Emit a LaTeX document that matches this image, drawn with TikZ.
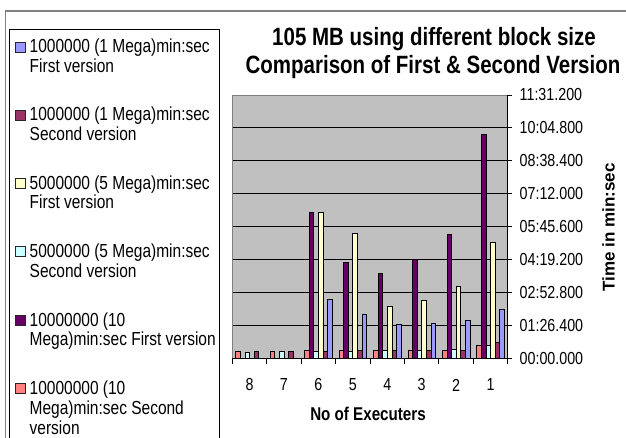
\documentclass[tikz,border=0pt]{standalone}
\usepackage{fontspec}
\setmainfont[FakeStretch=0.82]{Liberation Sans}
\newfontfamily\widesans{Liberation Sans}

\definecolor{plotgray}{HTML}{C0C0C0}
\definecolor{framegray}{HTML}{808080}
\definecolor{sBlue}{HTML}{9999FF}
\definecolor{sPlum}{HTML}{993366}
\definecolor{sYellow}{HTML}{FFFFCC}
\definecolor{sCyan}{HTML}{CCFFFF}
\definecolor{sPurple}{HTML}{660066}
\definecolor{sSalmon}{HTML}{FF8080}

\tikzset{
  legtext/.style={anchor=base west, inner sep=0pt, font=\fontsize{18.9}{20}\selectfont},
  swatch/.style={draw=black!85, line width=0.6pt, minimum size=10pt, inner sep=0pt},
  ticklabel/.style={inner sep=0pt, font=\fontsize{17.4}{19}\selectfont},
  titletext/.style={anchor=base, inner sep=0pt, font=\fontsize{25}{28}\selectfont\bfseries},
  barbox/.style={draw=black, line width=0.6pt},
  gridline/.style={draw=black, line width=0.9pt},
  axisline/.style={draw=black, line width=0.9pt},
}

\begin{document}
\begin{tikzpicture}[x=1pt, y=-1pt]
\useasboundingbox (0,0) rectangle (626,438);
\fill[white] (0,0) rectangle (626,438);

% chart frame and legend box
\draw[framegray, line width=1.3pt] (5.5,438) -- (5.5,11) -- (626,11);
\draw[black, line width=1pt] (9,438) -- (9,29.5) -- (219.5,29.5) -- (219.5,438);

% plot area
\fill[plotgray] (232.3,95) rectangle (507.7,358.5);
\foreach \i in {1,...,7}
  \draw[gridline] (232.3,{358.5-32.94*\i}) -- (507.7,{358.5-32.94*\i});
\draw[framegray, line width=0.9pt] (232.3,358.5) -- (232.3,95) -- (507.7,95);

% bars: one series at a time, categories 8 ... 1 from left to right
\foreach \c/\j/\hs in {
  sSalmon/0/{7.3,7.3,8.7,8.7,8.7,8.7,8.7,13},
  sPurple/1/{0,0,146.3,95.7,85.7,99,124,224},
  sCyan/2/{6.3,7.3,7,7,8.7,8.7,9.7,13},
  sYellow/3/{0,0,146.3,125,52.3,58,72.7,116},
  sPlum/4/{7.3,7.3,7,8.7,8.7,8.7,8.7,16.3},
  sBlue/5/{0,0,59.3,44.7,34.3,35.7,38,49.3}} {
  \foreach \h [count=\k from 0] in \hs {
    \ifdim \h pt>0.1pt
      \pgfmathsetmacro\xa{232.3+34.425*\k+3.44+4.59*\j}
      \filldraw[barbox, fill=\c] (\xa,358.5) rectangle ++(4.59,-\h);
    \fi
  }
}

% value axis on the right
\draw[axisline] (507.7,95) -- (507.7,358.5);
\foreach \v [count=\i from 0] in {00:00.000,01:26.400,02:52.800,04:19.200,05:45.600,07:12.000,08:38.400,10:04.800,11:31.200} {
  \draw[axisline] (507.7,{358.5-32.94*\i}) -- (512,{358.5-32.94*\i});
  \node[ticklabel, anchor=west] (v\i) at (519.5,{358.5-32.94*\i}) {\v};
}

% category axis
\draw[axisline] (232.3,358.5) -- (507.7,358.5);
\foreach \i in {0,...,8}
  \draw[axisline] ({232.3+34.425*\i},358.5) -- ({232.3+34.425*\i},363.5);
\foreach \n [count=\k from 0] in {8,7,6,5,4,3,2,1}
  \node[ticklabel] (c\n) at ({232.3+34.425*(\k+0.5)},385) {\n};

% titles
\node[titletext] (title1) at (434,46) {105 MB using different block size};
\node[titletext] (title2) at (433,74) {Comparison of First \& Second Version};
\node[anchor=base, inner sep=0pt, font=\fontsize{18.5}{20}\selectfont\bfseries] (xtitle) at (368,420) {No of Executers};
\node[rotate=90, inner sep=0pt, font=\widesans\fontsize{17}{19}\selectfont\bfseries] (ytitle) at (608.5,227.5) {Time in min:sec};

% legend
\node[swatch, fill=sBlue] (k1) at (20.5,47) {};
\node[legtext] (l1a) at (29.5,52.7) {1000000 (1 Mega)min:sec};
\node[legtext] (l1b) at (29.5,72.2) {First version};
\node[swatch, fill=sPlum] (k2) at (20.5,115.3) {};
\node[legtext] (l2a) at (29.5,121) {1000000 (1 Mega)min:sec};
\node[legtext] (l2b) at (29.5,140.5) {Second version};
\node[swatch, fill=sYellow] (k3) at (20.5,183.5) {};
\node[legtext] (l3a) at (29.5,189.2) {5000000 (5 Mega)min:sec};
\node[legtext] (l3b) at (29.5,208.7) {First version};
\node[swatch, fill=sCyan] (k4) at (20.5,251.7) {};
\node[legtext] (l4a) at (29.5,257.4) {5000000 (5 Mega)min:sec};
\node[legtext] (l4b) at (29.5,277) {Second version};
\node[swatch, fill=sPurple] (k5) at (20.5,320.3) {};
\node[legtext] (l5a) at (29.5,326) {10000000 (10};
\node[legtext] (l5b) at (29.5,345.8) {Mega)min:sec First version};
\node[swatch, fill=sSalmon] (k6) at (20.5,388.5) {};
\node[legtext] (l6a) at (29.5,394.2) {10000000 (10};
\node[legtext] (l6b) at (29.5,414.2) {Mega)min:sec Second};
\node[legtext] (l6c) at (29.5,434.2) {version};
\end{tikzpicture}
\end{document}
